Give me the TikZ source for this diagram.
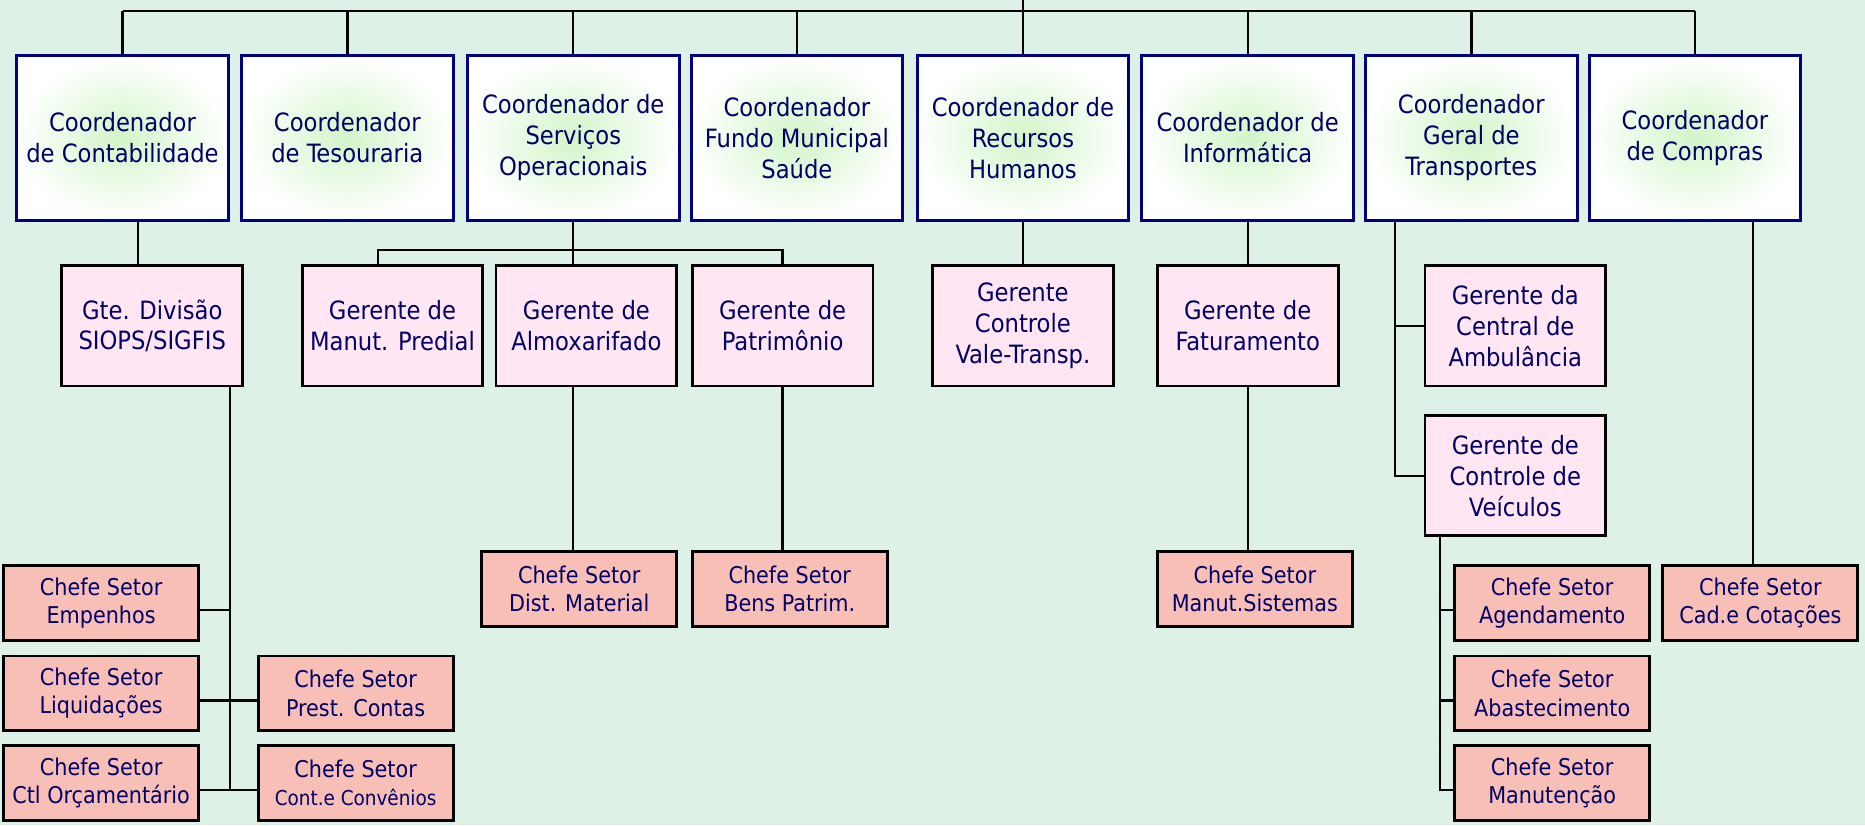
\documentclass[tikz,border=0pt]{standalone}
\usepackage{fontspec}
\setmainfont{DejaVu Sans Condensed}
\usetikzlibrary{positioning}
\definecolor{bgmint}{RGB}{221,241,230}
\definecolor{navyline}{RGB}{0,0,128}
\definecolor{navytext}{RGB}{0,0,102}
\definecolor{coordgreen}{RGB}{210,245,200}
\definecolor{gerpink}{RGB}{255,230,242}
\definecolor{chefsalmon}{RGB}{248,191,183}
\newcommand\coordsize{\fontsize{10.6}{13}\selectfont}
\newcommand\chefsize{\fontsize{9.7}{11.9}\selectfont}
\tikzset{
  coord/.style={draw=navyline, line width=1.3pt, inner color=coordgreen, outer color=white,
    minimum width=89pt, minimum height=69.5pt, align=center, text=navytext, font=\coordsize, inner sep=1pt},
  gerente/.style={draw=black, line width=1.2pt, fill=gerpink,
    minimum width=76pt, minimum height=50.5pt, align=center, text=navytext, font=\coordsize, inner sep=1pt},
  chefe/.style={draw=black, line width=1.2pt, fill=chefsalmon,
    minimum width=82pt, minimum height=31.5pt, align=center, text=navytext, font=\chefsize, inner sep=1pt},
  conn/.style={line width=1pt}
}
\begin{document}
\begin{tikzpicture}[x=0.5pt,y=-0.5pt]
\fill[bgmint] (0,0) rectangle (1568,694);
\useasboundingbox (0,0) rectangle (1568,694);
% coordenadores
\node[coord] (contab) at (103,116) {Coordenador\\de Contabilidade};
\node[coord] (tesour) at (292,116) {Coordenador\\de Tesouraria};
\node[coord] (serv) at (482,116) {Coordenador de\\Serviços\\Operacionais};
\node[coord] (fundo) at (670,116) {Coordenador\\Fundo Municipal\\Saúde};
\node[coord] (rh) at (860,116) {Coordenador de\\Recursos\\Humanos};
\node[coord] (info) at (1049,116) {Coordenador de\\Informática};
\node[coord] (transp) at (1237,116) {Coordenador\\Geral de\\Transportes};
\node[coord] (compras) at (1425,116) {Coordenador\\de Compras};
% gerentes
\node[gerente] (siops) at (128,274) {Gte. Divisão\\SIOPS/SIGFIS};
\node[gerente] (predial) at (330,274) {Gerente de\\Manut. Predial};
\node[gerente] (almox) at (493,274) {Gerente de\\Almoxarifado};
\node[gerente] (patrim) at (658,274) {Gerente de\\Patrimônio};
\node[gerente] (vale) at (860,274) {Gerente\\Controle\\Vale-Transp.};
\node[gerente] (fatur) at (1049,274) {Gerente de\\Faturamento};
\node[gerente] (amb) at (1274,274) {Gerente da\\Central de\\Ambulância};
\node[gerente] (veic) at (1274,400) {Gerente de\\Controle de\\Veículos};
% chefes de setor
\node[chefe] (empenhos) at (85,507) {Chefe Setor\\Empenhos};
\node[chefe] (liquid) at (85,583) {Chefe Setor\\Liquidações};
\node[chefe] (orcam) at (85,658) {Chefe Setor\\Ctl Orçamentário};
\node[chefe] (prest) at (299,583) {Chefe Setor\\Prest. Contas};
\node[chefe] (conv) at (299,658) {Chefe Setor\\{\fontsize{8.6}{11.9}\selectfont Cont.e Convênios}};
\node[chefe] (dist) at (487,495) {Chefe Setor\\Dist. Material};
\node[chefe] (bens) at (664,495) {Chefe Setor\\Bens Patrim.};
\node[chefe] (sist) at (1055,495) {Chefe Setor\\Manut.Sistemas};
\node[chefe] (agend) at (1305,507) {Chefe Setor\\Agendamento};
\node[chefe] (abast) at (1305,583) {Chefe Setor\\Abastecimento};
\node[chefe] (manut) at (1305,658) {Chefe Setor\\Manutenção};
\node[chefe] (cad) at (1480,507) {Chefe Setor\\Cad.e Cotações};
% barramento superior
\coordinate (root) at (860,0);
\coordinate (bus) at (860,9);
\draw[conn] (root) -- (bus);
\draw[conn] (contab.north |- bus) -- (compras.north |- bus);
\draw[conn] (contab.north) -- (contab.north |- bus);
\draw[conn] (tesour.north) -- (tesour.north |- bus);
\draw[conn] (serv.north) -- (serv.north |- bus);
\draw[conn] (fundo.north) -- (fundo.north |- bus);
\draw[conn] (rh.north) -- (rh.north |- bus);
\draw[conn] (info.north) -- (info.north |- bus);
\draw[conn] (transp.north) -- (transp.north |- bus);
\draw[conn] (compras.north) -- (compras.north |- bus);
% contabilidade
\draw[conn] ([xshift=-6pt]siops.north) -- ([xshift=-6pt]siops.north |- contab.south);
\coordinate (sv) at ([xshift=-6pt]siops.south east);
\draw[conn] (sv) -- ([yshift=-3pt]orcam.east -| sv);
\draw[conn] ([yshift=-3pt]empenhos.east) -- ([yshift=-3pt]empenhos.east -| sv);
\draw[conn] ([yshift=-3pt]liquid.east) -- ([yshift=-3pt]prest.west);
\draw[conn] ([yshift=-3pt]orcam.east) -- ([yshift=-3pt]conv.west);
% servicos operacionais
\coordinate (sbus) at (482,210);
\draw[conn] (serv.south) -- (almox.north -| serv.south);
\draw[conn] ([xshift=-6pt]predial.north) |- (sbus) -| (patrim.north);
\draw[conn] (almox.south -| serv.south) -- (dist.north -| serv.south);
\draw[conn] (patrim.south) -- (bens.north -| patrim.south);
% recursos humanos, informatica
\draw[conn] (rh.south) -- (vale.north);
\draw[conn] (info.south) -- (fatur.north);
\draw[conn] (fatur.south) -- (sist.north -| fatur.south);
% transportes
\coordinate (tv) at ([xshift=13pt]transp.south west);
\draw[conn] (tv) |- (veic.west);
\draw[conn] (amb.west) -- (amb.west -| tv);
\coordinate (vv) at ([xshift=7pt]veic.south west);
\draw[conn] (vv) |- ([yshift=-3pt]manut.west);
\draw[conn] ([yshift=-3pt]agend.west) -- ([yshift=-3pt]agend.west -| vv);
\draw[conn] ([yshift=-3pt]abast.west) -- ([yshift=-3pt]abast.west -| vv);
% compras
\draw[conn] ([xshift=-3pt]cad.north) -- ([xshift=-3pt]cad.north |- compras.south);
\end{tikzpicture}
\end{document}
